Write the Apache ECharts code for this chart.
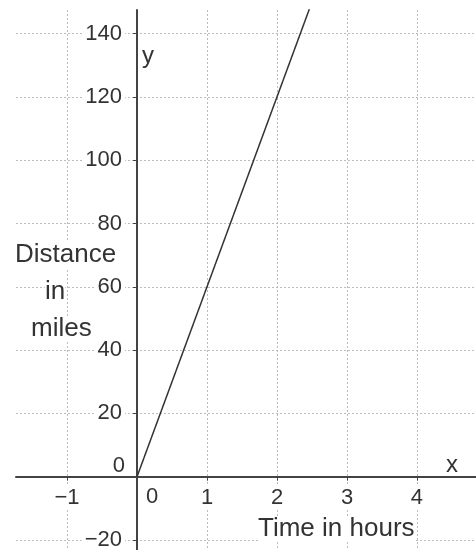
<!DOCTYPE html>
<html>
<head>
<meta charset="utf-8">
<script src="https://cdn.jsdelivr.net/npm/echarts@6/dist/echarts.min.js"></script>
<style>html,body{margin:0;padding:0;background:#fff}#c{width:476px;height:550px}</style>
</head>
<body>
<div id="c"></div>
<script>
// Data
const timeHours = [0, 2.5];
const distanceMiles = [0, 150];
const xRange = [-1.7286, 4.843];
const yRange = [-23.16, 147.45];
const xStep = 1;
const yStep = 20;
const xName = 'x';
const yName = 'y';
const xTitle = 'Time in hours';
const yTitleLines = ['Distance', 'in', 'miles'];

const FONT = '"Liberation Sans", Arial, sans-serif';
const fmt = v => {
  if (v === 0) return '{z|0}';
  const s = v < 0 ? '\u2212' + Math.abs(v) : String(v);
  return '{n|' + s + '}';
};

// layout of the plotting area
const G = {left: 16, right: 0, top: 10, bottom: 0};
const W = 476, H = 550;
const gw = W - G.left - G.right, gh = H - G.top - G.bottom;
// pixel shift that brings each axis onto the other axis's zero
const yAxisShift = (0 - xRange[0]) / (xRange[1] - xRange[0]) * gw;
const xAxisShift = (0 - yRange[0]) / (yRange[1] - yRange[0]) * gh;

const chart = echarts.init(document.getElementById('c'), null, {renderer: 'canvas'});
chart.setOption({
  animation: false,
  backgroundColor: '#fff',
  grid: Object.assign({containLabel: false, outerBoundsMode: 'none'}, G),
  xAxis: {
    type: 'value', min: xRange[0], max: xRange[1],
    minInterval: xStep, maxInterval: xStep,
    position: 'bottom', offset: -xAxisShift,
    axisLine: {onZero: false, lineStyle: {color: '#444', width: 2}},
    axisTick: {show: true, length: 4, lineStyle: {color: '#444'}},
    axisLabel: {
      margin: 9, color: '#333', fontSize: 22, fontFamily: FONT,
      showMinLabel: false, showMaxLabel: false, formatter: fmt,
      rich: {
        n: {fontSize: 22, fontFamily: FONT, color: '#333', backgroundColor: '#fff', padding: [1, 3]},
        z: {fontSize: 22, fontFamily: FONT, color: '#333', padding: [0, 0, 0, 30]}
      }
    },
    splitLine: {show: true, showMinLine: false, showMaxLine: false, lineStyle: {color: '#bbb', type: [2, 2], width: 1}}
  },
  yAxis: {
    type: 'value', min: yRange[0], max: yRange[1],
    minInterval: yStep, maxInterval: yStep,
    position: 'left', offset: -yAxisShift,
    axisLine: {onZero: false, lineStyle: {color: '#444', width: 2}},
    axisTick: {show: true, length: 4, lineStyle: {color: '#444'}},
    axisLabel: {
      margin: 12, color: '#333', fontSize: 22, fontFamily: FONT,
      showMinLabel: false, showMaxLabel: false, formatter: fmt,
      rich: {
        n: {fontSize: 22, fontFamily: FONT, color: '#333', backgroundColor: '#fff', padding: [1, 3]},
        z: {fontSize: 22, fontFamily: FONT, color: '#333', padding: [0, 0, 22, 0]}
      }
    },
    splitLine: {show: true, showMinLine: false, showMaxLine: false, lineStyle: {color: '#bbb', type: [2, 2], width: 1}}
  },
  series: [{
    type: 'line',
    data: timeHours.map((t, i) => [t, distanceMiles[i]]),
    showSymbol: false, clip: true,
    lineStyle: {color: '#333', width: 1.5},
    silent: true
  }],
  graphic: [
    {type: 'text', left: 142, top: 44, z: 100, style: {text: yName, font: '24px ' + FONT, fill: '#333'}},
    {type: 'text', left: 446, top: 453, z: 100, style: {text: xName, font: '24px ' + FONT, fill: '#333'}},
    {type: 'text', left: 258, top: 516, z: 100, style: {text: xTitle, font: '26px ' + FONT, fill: '#333', backgroundColor: '#fff'}},
    {type: 'text', left: 15, top: 242, z: 100, style: {text: yTitleLines[0], font: '26px ' + FONT, fill: '#333', backgroundColor: '#fff'}},
    {type: 'text', left: 45, top: 279, z: 100, style: {text: yTitleLines[1], font: '26px ' + FONT, fill: '#333', backgroundColor: '#fff'}},
    {type: 'text', left: 31, top: 316, z: 100, style: {text: yTitleLines[2], font: '26px ' + FONT, fill: '#333', backgroundColor: '#fff'}}
  ]
});
</script>
</body>
</html>
